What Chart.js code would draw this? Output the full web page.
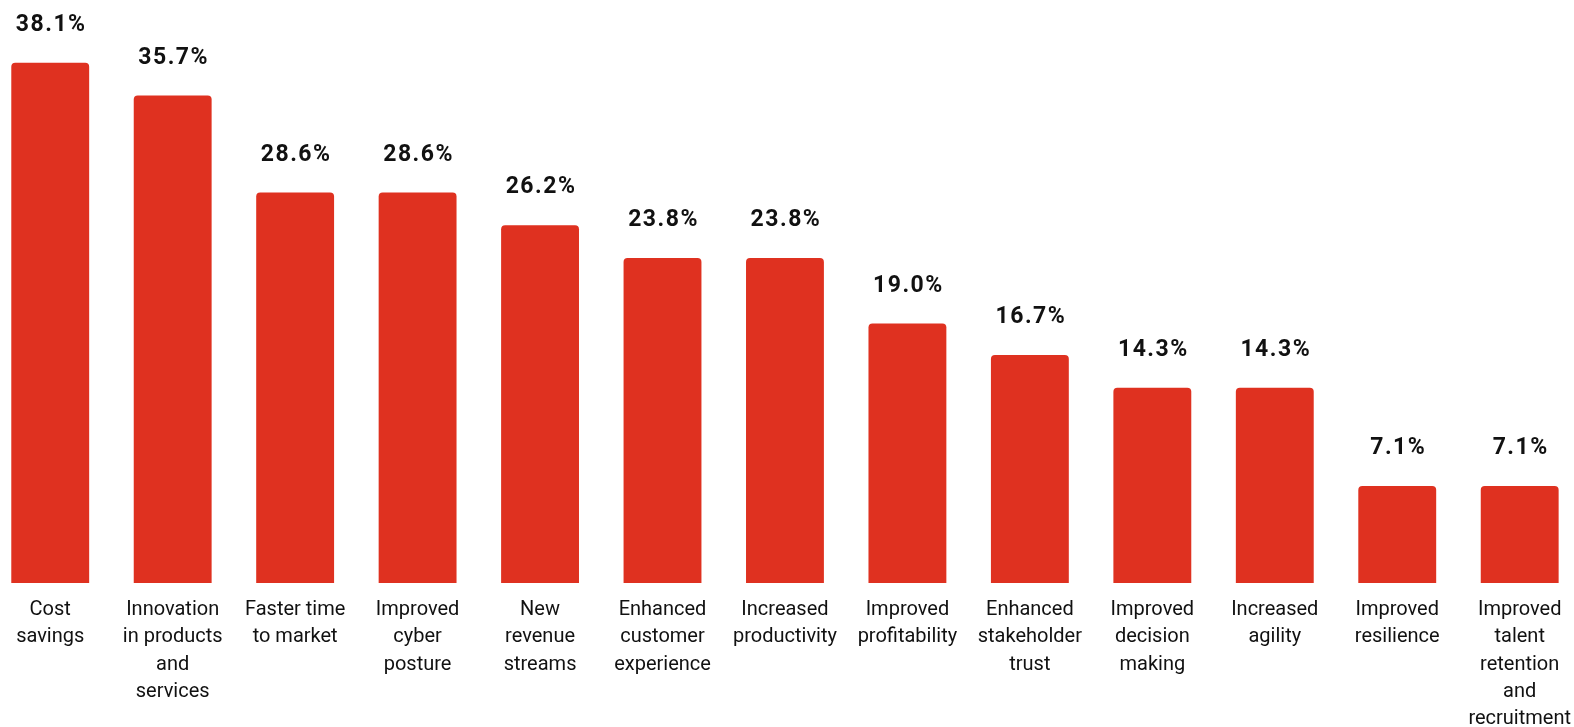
<!DOCTYPE html>
<html>
<head>
<meta charset="utf-8">
<script src="https://cdn.jsdelivr.net/npm/chart.js@4"></script>
<style>
  html, body { margin: 0; padding: 0; background: #fff; overflow: hidden; }
  #wrap { position: absolute; left: -11px; top: 0; width: 1595px; height: 727px; }
</style>
</head>
<body>
<div id="wrap"><canvas id="grafico"></canvas></div>
<script>
// ---- dados ----
const categorias = [
  ['Cost', 'savings'],
  ['Innovation', 'in products', 'and', 'services'],
  ['Faster time', 'to market'],
  ['Improved', 'cyber', 'posture'],
  ['New', 'revenue', 'streams'],
  ['Enhanced', 'customer', 'experience'],
  ['Increased', 'productivity'],
  ['Improved', 'profitability'],
  ['Enhanced', 'stakeholder', 'trust'],
  ['Improved', 'decision', 'making'],
  ['Increased', 'agility'],
  ['Improved', 'resilience'],
  ['Improved', 'talent', 'retention', 'and', 'recruitment']
];
const valores = [38.1, 35.7, 28.6, 28.6, 26.2, 23.8, 23.8, 19.0, 16.7, 14.3, 14.3, 7.1, 7.1];

const corBarra = '#DF3120';

// rótulos de valor acima das barras
const rotulosValor = {
  id: 'rotulosValor',
  afterDatasetsDraw(chart) {
    const ctx = chart.ctx;
    const meta = chart.getDatasetMeta(0);
    ctx.save();
    ctx.font = 'bold 23px Roboto';
    if ('letterSpacing' in ctx) ctx.letterSpacing = '1.5px';
    ctx.fillStyle = '#111';
    ctx.textAlign = 'center';
    ctx.textBaseline = 'alphabetic';
    meta.data.forEach((bar, i) => {
      ctx.fillText(valores[i].toFixed(1) + '%', bar.x + 1, bar.y - 32);
    });
    ctx.restore();
  }
};

new Chart(document.getElementById('grafico'), {
  type: 'bar',
  data: {
    labels: categorias,
    datasets: [{
      data: valores,
      backgroundColor: corBarra,
      borderRadius: { topLeft: 4, topRight: 4 },
      borderSkipped: 'bottom',
      barPercentage: 0.636,
      categoryPercentage: 1
    }]
  },
  options: {
    responsive: true,
    maintainAspectRatio: false,
    animation: false,
    layout: { padding: 0 },
    plugins: {
      legend: { display: false },
      tooltip: { enabled: false }
    },
    scales: {
      x: {
        grid: { display: false, drawTicks: false },
        border: { display: false },
        ticks: {
          color: '#111',
          padding: 13,
          maxRotation: 0,
          autoSkip: false,
          font: { family: 'Roboto', size: 20, lineHeight: 1.37 }
        },
        afterFit: s => { s.height = 144; }
      },
      y: {
        display: false,
        min: 0,
        max: 42.7
      }
    }
  },
  plugins: [rotulosValor]
});
</script>
</body>
</html>
